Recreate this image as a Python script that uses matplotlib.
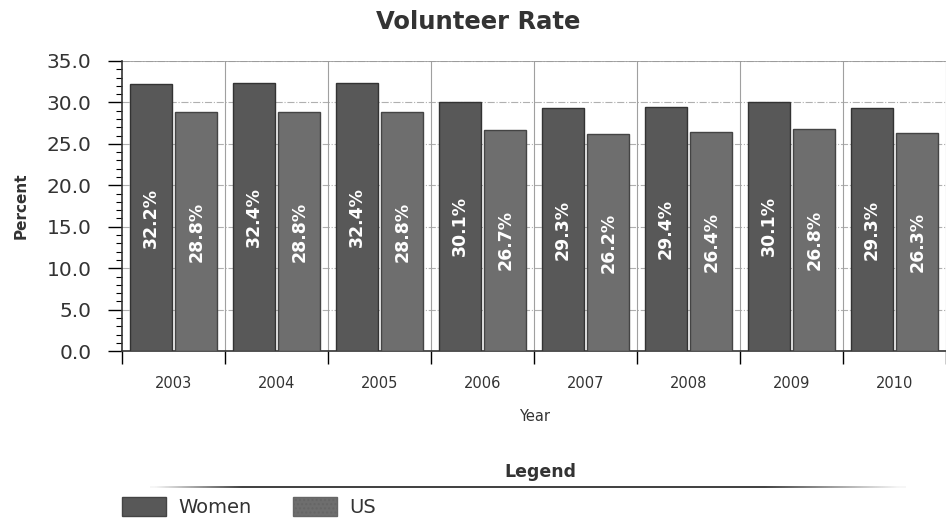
import numpy as np
import matplotlib.pyplot as plt
from matplotlib.patches import Patch
from matplotlib.ticker import MultipleLocator

years = ['2003', '2004', '2005', '2006', '2007', '2008', '2009', '2010']
women = [32.2, 32.4, 32.4, 30.1, 29.3, 29.4, 30.1, 29.3]
us = [28.8, 28.8, 28.8, 26.7, 26.2, 26.4, 26.8, 26.3]

c_women = '#585858'
c_us = '#6e6e6e'

fig = plt.figure(figsize=(9.46, 5.21), dpi=100)
ax = fig.add_axes([0.129, 0.326, 0.871, 0.557])

x = np.arange(len(years))
w = 0.41
ax.bar(x - 0.22, women, w, color=c_women, edgecolor='#333333', linewidth=1, zorder=3)
ax.bar(x + 0.22, us, w, color=c_us, edgecolor='#444444', linewidth=1, zorder=3)

for xi, v in zip(x - 0.22, women):
    ax.text(xi, v / 2, '%.1f%%' % v, rotation=90, ha='center', va='center',
            color='white', fontsize=12.5, fontweight='bold', zorder=4)
for xi, v in zip(x + 0.22, us):
    ax.text(xi, v / 2, '%.1f%%' % v, rotation=90, ha='center', va='center',
            color='white', fontsize=12.5, fontweight='bold', zorder=4)

ax.set_xlim(-0.5, 7.37)
ax.set_ylim(0, 35)
ax.yaxis.set_minor_locator(MultipleLocator(1))
ax.set_yticks(np.arange(0, 36, 5))
ax.set_yticklabels(['%.1f' % t for t in np.arange(0, 36, 5)], fontsize=14.5, color='#333333')
ax.tick_params(axis='y', which='major', length=10, width=1, direction='out', pad=12)
ax.tick_params(axis='y', which='minor', length=4, width=0.8, direction='out')

ax.set_xticks(x)
ax.set_xticklabels(years, fontsize=10.5, color='#333333')
ax.set_xticks(np.arange(-0.5, 8, 1), minor=True)
ax.tick_params(axis='x', which='major', length=0, pad=18)
ax.tick_params(axis='x', which='minor', length=9, width=1, direction='out')

# grid
for yv in range(5, 36, 5):
    ax.axhline(yv, color='#b0b0b0', linestyle='-.', linewidth=0.8, zorder=1)
for xv in np.arange(0.5, 8, 1):
    ax.axvline(xv, color='#a0a0a0', linestyle='-', linewidth=0.8, zorder=1)
ax.axhline(35, color='#999999', linewidth=1.2, zorder=1)

for s in ['top', 'right']:
    ax.spines[s].set_visible(False)
ax.spines['left'].set_color('#333333')
ax.spines['bottom'].set_color('#333333')
ax.spines['left'].set_linewidth(1.2)
ax.spines['bottom'].set_linewidth(1.2)

ax.set_ylabel('Percent', fontsize=11, fontweight='bold', color='#333333')
ax.yaxis.set_label_coords(-0.113, 0.5)
ax.set_xlabel('Year', fontsize=10.5, color='#333333')
ax.xaxis.set_label_coords(0.5, -0.2)

fig.text(0.505, 0.958, 'Volunteer Rate', ha='center', va='center',
         fontsize=17.5, fontweight='bold', color='#333333')

# legend block
fig.text(0.571, 0.094, 'Legend', ha='center', va='center',
         fontsize=12.5, fontweight='bold', color='#333333')
lax = fig.add_axes([150 / 946, 486 / 521 * 0 + (521 - 488) / 521, 755 / 946, 2 / 521])
px = np.linspace(150, 905, 400)
fade = np.clip(np.minimum((px - 150) / 90, (905 - px) / 140), 0.05, 1)
grad = np.ones((1, len(px), 4))
grad[..., :3] = 0.27
grad[0, :, 3] = fade
lax.imshow(grad, aspect='auto', interpolation='bilinear')
lax.axis('off')

handles = [Patch(facecolor=c_women, edgecolor='#444444'),
           Patch(facecolor=c_us, edgecolor='#666666', hatch='....')]
fig.legend(handles, ['Women', 'US'], loc='lower left', bbox_to_anchor=(122 / 946, 4 / 521),
           ncol=2, frameon=False, fontsize=14, handlelength=2.27, handleheight=1.13,
           columnspacing=2.1, handletextpad=0.65, borderpad=0, borderaxespad=0,
           labelcolor='#333333')

fig.savefig('out.png', dpi=100)
